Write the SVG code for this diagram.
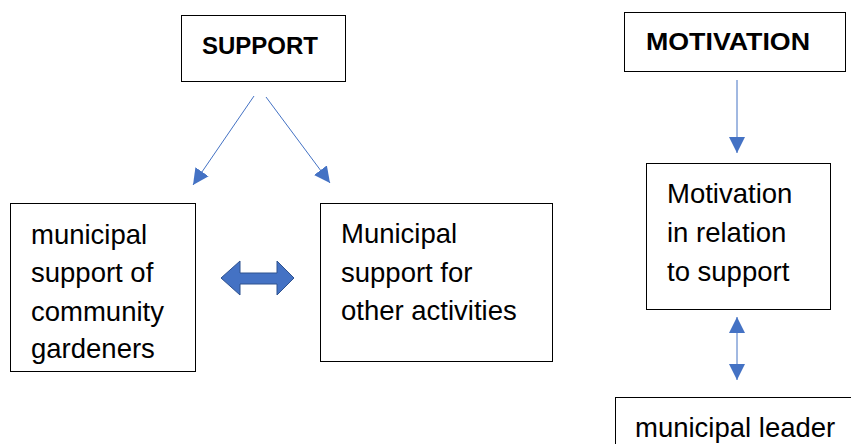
<svg xmlns="http://www.w3.org/2000/svg" width="851" height="444" viewBox="0 0 851 444">
<style>
.box{fill:#fff;stroke:#000;stroke-width:1}
.t{font-family:"Liberation Sans",Arial,sans-serif;font-size:27.5px;fill:#000}
.h{font-family:"Liberation Sans",Arial,sans-serif;font-size:24px;font-weight:bold;fill:#000}
.ln{stroke:#4472C4;stroke-width:1;fill:none}
</style>
<defs>
<marker id="ah" viewBox="0 0 10 10" refX="10" refY="5" markerWidth="16" markerHeight="16" markerUnits="userSpaceOnUse" orient="auto-start-reverse">
<path d="M0,0 L10,5 L0,10 z" fill="#4472C4"/>
</marker>
</defs>
<rect width="851" height="444" fill="#fff"/>
<g id="support">
<rect class="box" x="181.5" y="15.5" width="164" height="66"/>
<text class="h" x="202" y="54">SUPPORT</text>
</g>
<g id="motivation">
<rect class="box" x="624.5" y="12.5" width="221" height="59"/>
<text class="h" x="646" y="50" textLength="164" lengthAdjust="spacingAndGlyphs">MOTIVATION</text>
</g>
<g id="community">
<rect class="box" x="10.5" y="203.5" width="185" height="168"/>
<text class="t" x="31" y="244">municipal</text>
<text class="t" x="31" y="282">support of</text>
<text class="t" x="31" y="321">community</text>
<text class="t" x="31" y="358">gardeners</text>
</g>
<g id="other">
<rect class="box" x="320.5" y="203.5" width="232" height="158"/>
<text class="t" x="341" y="243">Municipal</text>
<text class="t" x="341" y="282">support for</text>
<text class="t" x="341" y="320">other activities</text>
</g>
<g id="motrel">
<rect class="box" x="646.5" y="163.5" width="184" height="146"/>
<text class="t" x="667" y="203">Motivation</text>
<text class="t" x="667" y="242">in relation</text>
<text class="t" x="667" y="281">to support</text>
</g>
<g id="leader">
<rect class="box" x="615.5" y="397.5" width="240" height="60"/>
<text class="t" x="635" y="437">municipal leader</text>
</g>
<g id="connectors">
<line class="ln" x1="254" y1="96" x2="193" y2="185" marker-end="url(#ah)"/>
<line class="ln" x1="266" y1="97" x2="330" y2="183" marker-end="url(#ah)"/>
<line class="ln" x1="737" y1="80" x2="737" y2="153" marker-end="url(#ah)"/>
<line class="ln" x1="737" y1="317" x2="737" y2="380" marker-start="url(#ah)" marker-end="url(#ah)"/>
<path d="M221,278 L240,261 L240,273 L277,273 L277,261 L294,278 L277,295 L277,284 L240,284 L240,295 Z" fill="#4472C4" stroke="#2F528F" stroke-width="1"/>
</g>
</svg>
